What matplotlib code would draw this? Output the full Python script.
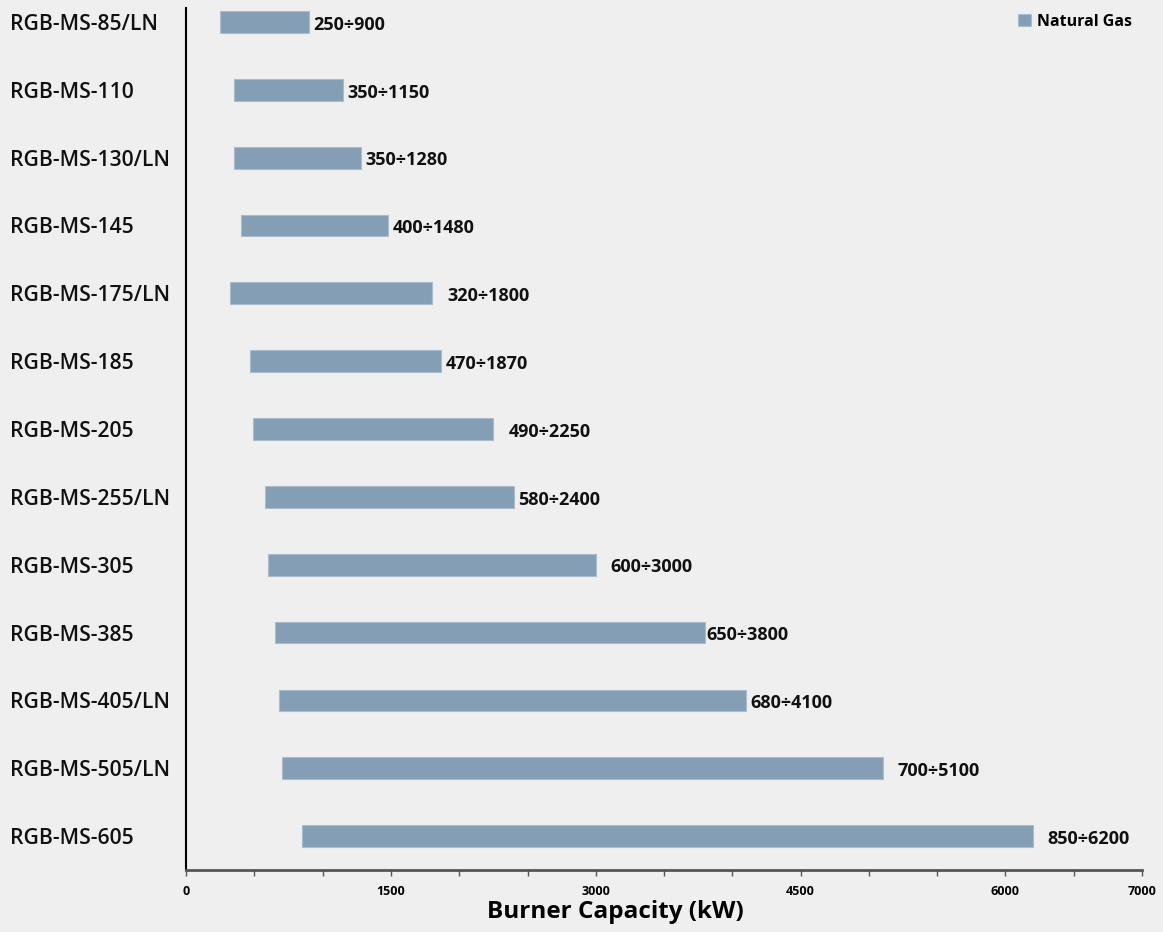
import matplotlib.pyplot as plt
import numpy as np

# modelli bruciatori, dal basso verso l'alto
modelli = ['RGB-MS-605', 'RGB-MS-505/LN', 'RGB-MS-405/LN', 'RGB-MS-385',
           'RGB-MS-305', 'RGB-MS-255/LN', 'RGB-MS-205', 'RGB-MS-185',
           'RGB-MS-175/LN', 'RGB-MS-145', 'RGB-MS-130/LN', 'RGB-MS-110',
           'RGB-MS-85/LN']
potenza_min = [850, 700, 680, 650, 600, 580, 490, 470, 320, 400, 350, 350, 250]
potenza_max = [6200, 5100, 4100, 3800, 3000, 2400, 2250, 1870, 1800, 1480, 1280, 1150, 900]
# distanza etichetta dalla fine della barra (kW)
scarto = [110, 110, 30, 10, 110, 30, 110, 30, 110, 30, 30, 30, 30]

tick_lab = {0: '0', 1500: '1500', 3000: '3000', 4500: '4500', 6000: '6000', 7000: '7000'}

SFONDO = '#efefef'
BARRA = '#849fb5'

fig = plt.figure(figsize=(11.63, 9.32), dpi=100, facecolor=SFONDO)
ax = fig.add_axes([0.16, 0.0665, 0.822, 0.9245], facecolor=SFONDO)

y = np.arange(len(modelli))
larg = np.array(potenza_max) - np.array(potenza_min)
ax.barh(y, larg, left=potenza_min, height=0.32, color=BARRA,
        edgecolor='#a9bccb', linewidth=0.8, label='Natural Gas')

for i in range(len(modelli)):
    ax.text(potenza_max[i] + scarto[i], y[i] - 0.04, f'{potenza_min[i]}÷{potenza_max[i]}',
            va='center', ha='left', fontsize=13, fontweight='bold',
            family='Open Sans', color='#111111')

ax.set_xlim(0, 7000)
ax.set_ylim(-0.5, 12.2)
ax.set_yticks(y)
ax.set_yticklabels(modelli, fontsize=15.2, fontweight='semibold', family='Open Sans', color='#111111')
ax.tick_params(axis='y', length=0, pad=127)
for t in ax.get_yticklabels():
    t.set_horizontalalignment('left')

ticks = np.arange(0, 7001, 500)
ax.set_xticks(ticks)
ax.set_xticklabels([tick_lab.get(int(t), '') for t in ticks], fontsize=9,
                   fontweight='bold', family='Open Sans')
ax.tick_params(axis='x', length=4, width=1, color='#555555', pad=7)

ax.set_xlabel('Burner Capacity (kW)', fontsize=17.5, fontweight='bold', family='Open Sans', labelpad=1)
ax.xaxis.set_label_coords(0.449, -0.035)

ax.spines['top'].set_visible(False)
ax.spines['right'].set_visible(False)
ax.spines['left'].set_color('black')
ax.spines['left'].set_linewidth(1.5)
ax.spines['bottom'].set_color('#555555')
ax.spines['bottom'].set_linewidth(2)

leg = ax.legend(loc='upper right', frameon=False,
                prop={'weight': 'bold', 'family': 'Open Sans', 'size': 11.5},
                handlelength=0.8, handleheight=0.8, handletextpad=0.4,
                borderaxespad=0.2, bbox_to_anchor=(1.0, 1.005))

fig.savefig('out.png', dpi=100, facecolor=SFONDO)
